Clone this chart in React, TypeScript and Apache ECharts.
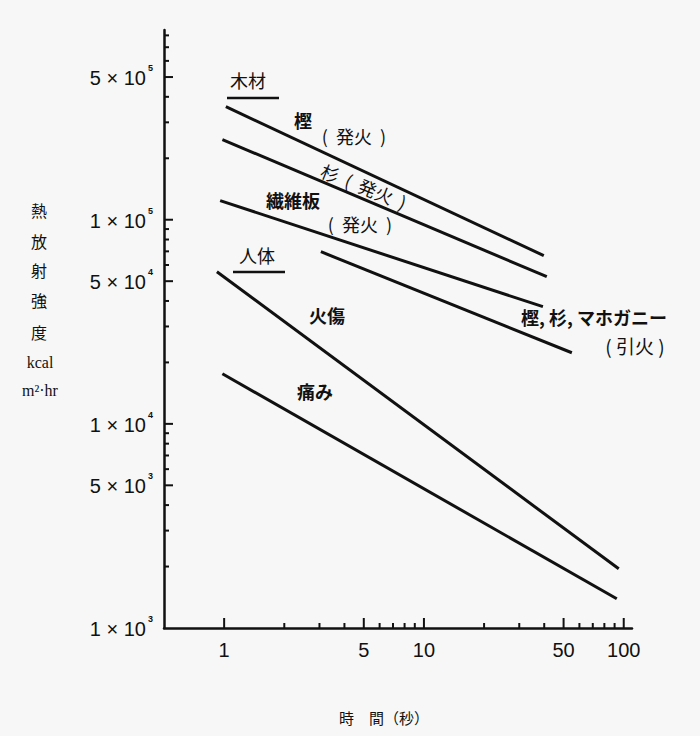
import React, { useEffect, useRef } from 'react';
import * as echarts from 'echarts';

// ---- data ----
const seriesNames = [
  '樫（発火）',
  '杉（発火）',
  '繊維板（発火）',
  '樫・杉・マホガニー（引火）',
  '火傷',
  '痛み',
];
// time (s) at start / end of each line
const seriesTimes = [
  [1.02, 39.8],
  [0.98, 41.2],
  [0.955, 39.4],
  [3.05, 55.0],
  [0.92, 94.4],
  [0.98, 92.3],
];
// heat radiation intensity (kcal / m2 hr) at start / end of each line
const seriesIntensity = [
  [3.58e5, 6.67e4],
  [2.47e5, 5.26e4],
  [1.24e5, 3.75e4],
  [6.97e4, 2.23e4],
  [5.56e4, 1.95e3],
  [1.76e4, 1.39e3],
];

const xMin = 0.5;
const xMax = 110;
const yMin = 1000;
const yMax = 850000;

const xTickValues = [1, 2, 3, 4, 5, 6, 7, 8, 9, 10, 20, 30, 40, 50, 60, 70, 80, 90, 100];
const xLabelValues = [1, 5, 10, 50, 100];
const xLabelTexts = ['1', '5', '10', '50', '100'];

const yTickValues = [
  2e3, 3e3, 4e3, 5e3, 6e3, 7e3, 8e3, 9e3,
  1e4, 2e4, 3e4, 4e4, 5e4, 6e4, 7e4, 8e4, 9e4,
  1e5, 2e5, 3e5, 4e5, 5e5, 6e5, 7e5, 8e5,
];
const yLabelValues = [1e3, 5e3, 1e4, 5e4, 1e5, 5e5];
const yLabelMantissa = ['1', '5', '1', '5', '1', '5'];
const yLabelExponent = ['3', '3', '4', '4', '5', '5'];

const yTitleChars = ['熱', '放', '射', '強', '度'];
const xTitle = '時　間（秒）';

const INK = '#111111';
const BG = '#f7f7f7';
const CJK = '"Noto Sans CJK JP", sans-serif';
const NUM = '"Liberation Sans", Arial, sans-serif';

function isMajor(v: number): boolean {
  const m = v / Math.pow(10, Math.floor(Math.log10(v) + 1e-9));
  return Math.abs(m - 1) < 1e-6 || Math.abs(m - 5) < 1e-6;
}

export default function App() {
  const ref = useRef<HTMLDivElement>(null);

  useEffect(() => {
    document.body.style.margin = '0';
    document.body.style.background = BG;
    const chart = echarts.init(ref.current!, null, { renderer: 'svg' });

    const lineSeries = seriesNames.map((name, i) => ({
      name,
      type: 'line',
      data: seriesTimes[i].map((t, k) => [t, seriesIntensity[i][k]]),
      symbol: 'none',
      lineStyle: { color: INK, width: 3 },
      z: 3,
    }));

    const xTickSeries = {
      type: 'custom',
      name: 'xticks',
      data: xTickValues.map((v) => [v, yMin]),
      clip: false,
      silent: true,
      renderItem: (params: any, api: any) => {
        const v = api.value(0);
        const p = api.coord([v, yMin]);
        const len = isMajor(v) ? 10 : 5;
        const children: any[] = [
          {
            type: 'line',
            shape: { x1: p[0], y1: p[1], x2: p[0], y2: p[1] - len },
            style: { stroke: INK, lineWidth: 2 },
          },
        ];
        const li = xLabelValues.indexOf(v);
        if (li >= 0) {
          children.push({
            type: 'text',
            x: p[0],
            y: p[1] + 22,
            style: {
              text: xLabelTexts[li],
              font: `20px ${NUM}`,
              fill: INK,
              align: 'center',
              verticalAlign: 'middle',
            },
          });
        }
        return { type: 'group', children };
      },
    };

    const yTickSeries = {
      type: 'custom',
      name: 'yticks',
      data: yTickValues.map((v) => [xMin, v]),
      clip: false,
      silent: true,
      renderItem: (params: any, api: any) => {
        const v = api.value(1);
        const p = api.coord([xMin, v]);
        const len = isMajor(v) ? 9 : 5;
        return {
          type: 'line',
          shape: { x1: p[0], y1: p[1], x2: p[0] + len, y2: p[1] },
          style: { stroke: INK, lineWidth: 2 },
        };
      },
    };

    const yLabelSeries = {
      type: 'custom',
      name: 'ylabels',
      data: yLabelValues.map((v) => [xMin, v]),
      clip: false,
      silent: true,
      renderItem: (params: any, api: any) => {
        const i = params.dataIndex;
        const v = api.value(1);
        const p = api.coord([xMin, v]);
        return {
          type: 'group',
          children: [
            {
              type: 'text',
              x: p[0] - 18,
              y: p[1] + 1,
              style: {
                text: `${yLabelMantissa[i]} × 10`,
                font: `20px ${NUM}`,
                fill: INK,
                align: 'right',
                verticalAlign: 'middle',
              },
            },
            {
              type: 'text',
              x: p[0] - 16,
              y: p[1] - 9,
              style: {
                text: yLabelExponent[i],
                font: `bold 9px ${NUM}`,
                fill: INK,
                align: 'left',
                verticalAlign: 'middle',
              },
            },
          ],
        };
      },
    };

    const txt = (text: string, x: number, y: number, size: number, extra: any = {}) => ({
      type: 'text',
      x,
      y,
      rotation: extra.rotation || 0,
      style: {
        text,
        font: `${extra.weight || 'normal'} ${size}px ${extra.family || CJK}`,
        fill: INK,
        align: extra.align || 'center',
        verticalAlign: 'middle',
        textAlign: extra.align || 'center',
        textVerticalAlign: 'middle',
      },
      z: 10,
    });

    const graphic: any[] = [
      // group headings with underline
      txt('木材', 248, 80, 18),
      { type: 'line', shape: { x1: 227, y1: 98, x2: 279, y2: 98 }, style: { stroke: INK, lineWidth: 2.5 } },
      txt('人体', 257, 255, 18),
      { type: 'line', shape: { x1: 233, y1: 272, x2: 285, y2: 272 }, style: { stroke: INK, lineWidth: 2.5 } },
      // line annotations
      txt('樫', 303, 120, 18, { weight: 'bold' }),
      txt('(  発火  )', 354, 136, 18),
      txt('杉  (  発火  )', 364, 186, 18, { rotation: -0.38 }),
      txt('繊維板', 293, 200, 18, { weight: 'bold' }),
      txt('(  発火  )', 360, 224, 18),
      txt('火傷', 327, 315, 18, { weight: 'bold' }),
      txt('痛み', 315, 391, 18, { weight: 'bold' }),
      txt('樫, 杉, マホガニー', 594, 317, 18, { weight: 'bold' }),
      txt('( 引火 )', 635, 345, 19),
      // axis titles
      ...yTitleChars.map((c, i) => txt(c, 39, [210, 241, 270, 300, 332][i], 16)),
      txt('kcal', 40, 362, 16, { family: '"Liberation Serif", serif' }),
      txt('m²·hr', 40, 390, 16, { family: '"Liberation Serif", serif' }),
      txt(xTitle, 384, 717, 15),
    ];

    chart.setOption({
      animation: false,
      backgroundColor: BG,
      grid: { left: 164, right: 68, top: 30, bottom: 108, containLabel: false },
      xAxis: {
        type: 'log',
        logBase: 10,
        min: xMin,
        max: xMax,
        axisLine: { show: true, lineStyle: { color: INK, width: 2.5 } },
        axisTick: { show: false },
        axisLabel: { show: false },
        splitLine: { show: false },
        minorTick: { show: false },
      },
      yAxis: {
        type: 'log',
        logBase: 10,
        min: yMin,
        max: yMax,
        axisLine: { show: true, lineStyle: { color: INK, width: 2.5 } },
        axisTick: { show: false },
        axisLabel: { show: false },
        splitLine: { show: false },
        minorTick: { show: false },
      },
      series: [...lineSeries, xTickSeries, yTickSeries, yLabelSeries],
      graphic,
    });

    return () => {
      chart.dispose();
    };
  }, []);

  return (
    <div
      ref={ref}
      style={{ position: 'absolute', left: 0, top: 0, width: 700, height: 736, background: BG }}
    />
  );
}
